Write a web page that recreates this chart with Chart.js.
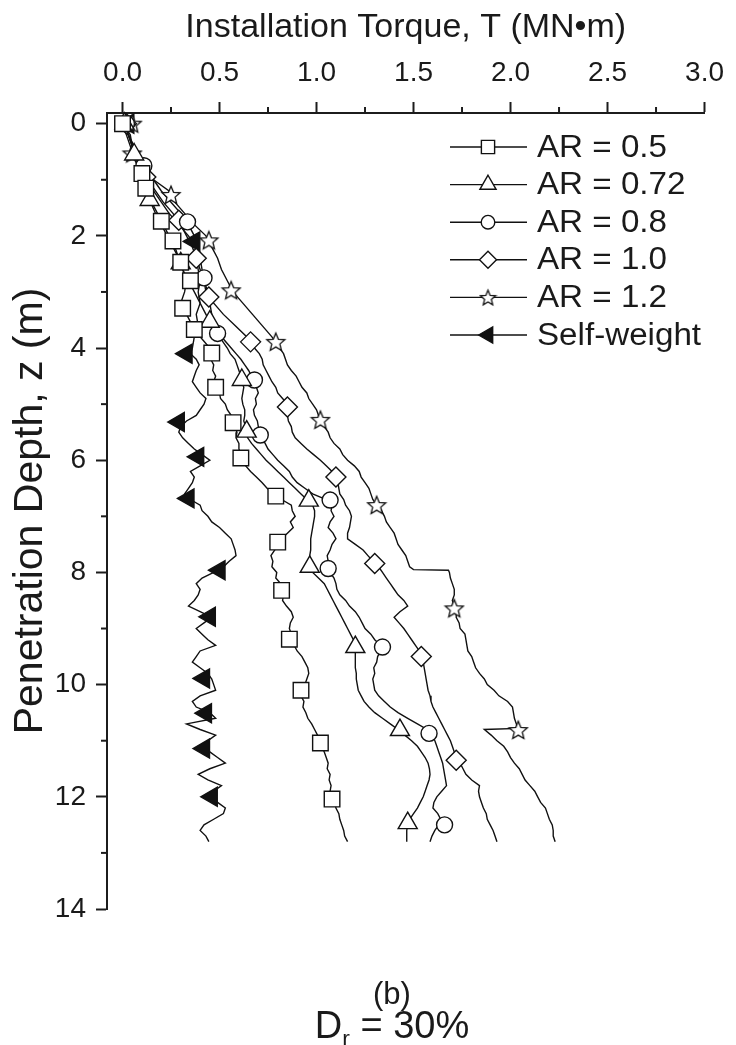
<!DOCTYPE html>
<html>
<head>
<meta charset="utf-8">
<script src="https://cdn.jsdelivr.net/npm/chart.js"></script>
<style>
  body { margin: 0; background: #fff; overflow: hidden; }
  #wrap { position: relative; width: 736px; height: 1045px; }
  .cap { position: absolute; left: 192px; width: 400px; text-align: center;
         font-family: 'Liberation Sans', Arial, sans-serif; color: #1a1a1a; line-height: 1; }
  .cap sub { font-size: 60%; vertical-align: -0.35em; }
</style>
</head>
<body>
<div id="wrap">
  <canvas id="myChart" width="736" height="1045"></canvas>
  <div class="cap" style="top:978px;font-size:31px;">(b)</div>
  <div class="cap" style="top:1006px;font-size:38px;">D<sub>r</sub> = 30%</div>
</div>
<script>
// tick labels
var xTicks = [0, 0.5, 1.0, 1.5, 2.0, 2.5, 3.0];
var xMinor = [0.25, 0.75, 1.25, 1.75, 2.25, 2.75];
var yTicks = [0, 2, 4, 6, 8, 10, 12, 14];
var yMinor = [1, 3, 5, 7, 9, 11, 13];

// depth (m) for the AR = 0.5 .. 1.0 and self-weight traces (finer below 4 m)
var depth = [0,0.2,0.4,0.6,0.8,1.0,1.2,1.4,1.6,1.8,2.0,2.2,2.4,2.6,2.8,3.0,3.2,3.4,3.6,3.8,
  4.0,4.1,4.2,4.3,4.4,4.5,4.6,4.7,4.8,4.9,5.0,5.1,5.2,5.3,5.4,5.5,5.6,5.7,5.8,5.9,
  6.0,6.1,6.2,6.3,6.4,6.5,6.6,6.7,6.8,6.9,7.0,7.1,7.2,7.3,7.4,7.5,7.6,7.7,7.8,7.9,
  8.0,8.1,8.2,8.3,8.4,8.5,8.6,8.7,8.8,8.9,9.0,9.1,9.2,9.3,9.4,9.5,9.6,9.7,9.8,9.9,
  10.0,10.1,10.2,10.3,10.4,10.5,10.6,10.7,10.8,10.9,11.0,11.1,11.2,11.3,11.4,11.5,11.6,11.7,11.8,11.9,
  12.0,12.1,12.2,12.3,12.4,12.5,12.6,12.7,12.8];

// installation torque (MN.m) along depth
var torqueAR05 = [0.00,0.03,0.05,0.07,0.09,0.11,0.13,0.15,0.18,0.21,0.24,0.27,0.29,0.31,0.33,0.32,0.30,0.33,0.36,0.40,
  0.45,0.46,0.455,0.47,0.465,0.48,0.47,0.485,0.50,0.505,0.53,0.54,0.56,0.565,0.575,0.59,0.585,0.60,0.60,0.615,
  0.62,0.635,0.66,0.69,0.72,0.745,0.78,0.82,0.87,0.875,0.89,0.865,0.88,0.85,0.82,0.80,0.785,0.765,0.775,0.77,
  0.795,0.79,0.815,0.82,0.83,0.825,0.845,0.87,0.88,0.865,0.86,0.87,0.86,0.885,0.90,0.925,0.94,0.955,0.96,0.95,
  0.94,0.925,0.92,0.935,0.93,0.945,0.955,0.975,0.99,1.005,1.02,1.025,1.04,1.05,1.06,1.055,1.07,1.065,1.075,1.07,
  1.08,1.095,1.10,1.115,1.12,1.13,1.14,1.145,1.16];
var torqueAR072 = [0.00,0.02,0.04,0.06,0.08,0.10,0.12,0.145,0.17,0.20,0.23,0.26,0.29,0.31,0.34,0.37,0.40,0.43,0.46,0.50,
  0.54,0.555,0.58,0.59,0.60,0.61,0.615,0.625,0.62,0.615,0.62,0.63,0.63,0.625,0.635,0.64,0.645,0.665,0.69,0.715,
  0.74,0.77,0.80,0.83,0.86,0.89,0.92,0.95,0.98,0.99,0.99,0.985,0.98,0.975,0.97,0.97,0.97,0.965,0.965,0.97,
  0.98,1.01,1.04,1.055,1.07,1.085,1.10,1.115,1.13,1.145,1.16,1.175,1.19,1.20,1.20,1.20,1.20,1.20,1.205,1.205,
  1.21,1.215,1.23,1.245,1.27,1.30,1.34,1.38,1.42,1.455,1.49,1.52,1.54,1.56,1.575,1.582,1.585,1.58,1.57,1.56,
  1.55,1.535,1.52,1.50,1.48,1.47,1.465,1.465,1.465];
var torqueAR08 = [0.00,0.03,0.06,0.09,0.12,0.16,0.20,0.25,0.30,0.34,0.37,0.39,0.40,0.41,0.42,0.43,0.45,0.46,0.48,0.51,
  0.56,0.585,0.61,0.63,0.65,0.665,0.68,0.69,0.70,0.685,0.69,0.675,0.68,0.695,0.70,0.71,0.72,0.735,0.75,0.775,
  0.80,0.83,0.86,0.875,0.90,0.94,0.98,1.05,1.08,1.075,1.09,1.07,1.06,1.085,1.10,1.08,1.07,1.055,1.06,1.06,
  1.07,1.09,1.10,1.105,1.12,1.15,1.17,1.20,1.22,1.235,1.25,1.28,1.30,1.33,1.33,1.315,1.31,1.295,1.30,1.29,
  1.295,1.30,1.32,1.35,1.38,1.42,1.47,1.52,1.57,1.59,1.61,1.62,1.63,1.64,1.65,1.655,1.66,1.665,1.67,1.645,
  1.62,1.605,1.60,1.625,1.64,1.63,1.61,1.595,1.585];
var torqueAR10 = [0.00,0.03,0.05,0.08,0.10,0.13,0.17,0.21,0.26,0.30,0.33,0.36,0.38,0.40,0.42,0.44,0.47,0.52,0.58,0.64,
  0.68,0.705,0.72,0.725,0.74,0.755,0.77,0.79,0.80,0.825,0.85,0.845,0.85,0.855,0.87,0.875,0.89,0.92,0.95,0.985,
  1.02,1.05,1.08,1.10,1.11,1.115,1.12,1.14,1.15,1.17,1.18,1.175,1.17,1.16,1.16,1.20,1.24,1.265,1.29,1.32,
  1.34,1.36,1.38,1.40,1.42,1.45,1.47,1.43,1.40,1.425,1.45,1.47,1.49,1.51,1.53,1.54,1.55,1.555,1.56,1.565,
  1.57,1.575,1.585,1.59,1.60,1.615,1.63,1.645,1.66,1.675,1.69,1.70,1.71,1.725,1.74,1.755,1.77,1.80,1.84,1.835,
  1.84,1.85,1.86,1.875,1.88,1.895,1.91,1.92,1.93];
var selfWeight = [0.00,0.03,0.05,0.08,0.10,0.13,0.16,0.20,0.24,0.29,0.34,0.38,0.38,0.39,0.40,0.39,0.40,0.38,0.39,0.37,
  0.36,0.35,0.38,0.395,0.38,0.37,0.36,0.38,0.40,0.43,0.42,0.40,0.38,0.33,0.30,0.29,0.31,0.34,0.37,0.41,
  0.45,0.40,0.35,0.37,0.36,0.34,0.32,0.35,0.40,0.41,0.44,0.46,0.50,0.53,0.56,0.57,0.58,0.585,0.55,0.52,
  0.47,0.41,0.38,0.40,0.39,0.37,0.34,0.40,0.46,0.42,0.38,0.41,0.44,0.48,0.40,0.38,0.36,0.40,0.44,0.46,
  0.47,0.48,0.40,0.36,0.38,0.45,0.48,0.33,0.40,0.48,0.44,0.42,0.45,0.49,0.53,0.45,0.39,0.44,0.51,0.47,
  0.45,0.49,0.53,0.52,0.47,0.42,0.40,0.43,0.445];

// AR = 1.2 has two sudden jumps, so it keeps its own depth list
var depthAR12 = [0,0.2,0.4,0.6,0.8,1.0,1.2,1.4,1.6,1.8,2.0,2.2,2.4,2.6,2.8,3.0,3.2,3.4,3.6,3.8,
  4.0,4.1,4.2,4.3,4.4,4.5,4.6,4.7,4.8,4.9,5.0,5.1,5.2,5.3,5.4,5.5,5.6,5.7,5.8,5.9,
  6.0,6.1,6.2,6.3,6.4,6.5,6.6,6.7,6.8,6.9,7.0,7.1,7.2,7.3,7.4,7.5,7.6,7.7,7.8,7.9,
  7.95,7.96,
  8.0,8.1,8.2,8.3,8.4,8.5,8.6,8.7,8.8,8.9,9.0,9.1,9.2,9.3,9.4,9.5,9.6,9.7,9.8,9.9,
  10.0,10.1,10.2,10.3,10.4,10.5,10.6,10.7,10.78,
  10.8,10.9,11.0,11.1,11.2,11.3,11.4,11.5,11.6,11.7,11.8,11.9,12.0,12.1,12.2,12.3,12.4,12.5,12.6,12.7,12.8];
var torqueAR12 = [0.00,0.04,0.05,0.07,0.11,0.16,0.24,0.27,0.32,0.37,0.43,0.46,0.49,0.51,0.54,0.57,0.62,0.67,0.72,0.77,
  0.81,0.83,0.84,0.85,0.87,0.895,0.91,0.925,0.95,0.96,0.98,1.00,1.01,1.02,1.04,1.06,1.07,1.09,1.12,1.135,
  1.16,1.195,1.22,1.23,1.25,1.27,1.28,1.29,1.31,1.335,1.35,1.36,1.38,1.40,1.41,1.42,1.44,1.46,1.47,1.48,
  1.50,1.68,
  1.685,1.69,1.70,1.71,1.71,1.70,1.71,1.72,1.72,1.735,1.74,1.765,1.77,1.775,1.78,1.80,1.81,1.82,1.84,1.865,
  1.88,1.915,1.94,1.985,2.01,2.015,2.02,2.03,2.04,
  1.865,1.90,1.93,1.965,1.985,2.00,2.02,2.045,2.06,2.075,2.10,2.125,2.14,2.155,2.18,2.19,2.20,2.215,2.22,2.22,2.23];

// marker positions (depth, torque)
var mkDepthAR05 = [0,0.89,1.15,1.74,2.09,2.47,2.8,3.29,3.67,4.09,4.7,5.33,5.96,6.64,7.46,8.32,9.19,10.1,11.04,12.04];
var mkTorqueAR05 = [0.00,0.10,0.12,0.20,0.26,0.30,0.35,0.31,0.37,0.46,0.48,0.57,0.61,0.79,0.80,0.82,0.86,0.92,1.02,1.08];
var mkDepthAR072 = [0,0.55,1.36,2.49,3.53,4.57,5.49,6.72,7.9,9.33,10.81,12.47];
var mkTorqueAR072 = [0.01,0.06,0.14,0.30,0.45,0.615,0.64,0.96,0.965,1.20,1.43,1.47];
var mkDepthAR08 = [0,0.75,1.75,2.75,3.74,4.57,5.55,6.71,7.93,9.33,10.87,12.5];
var mkTorqueAR08 = [0.02,0.11,0.335,0.42,0.49,0.68,0.71,1.07,1.06,1.34,1.58,1.66];
var mkDepthAR10 = [0,0.95,1.72,2.4,3.09,3.89,5.05,6.3,7.84,9.5,11.35];
var mkTorqueAR10 = [0.02,0.12,0.29,0.38,0.445,0.66,0.85,1.10,1.30,1.54,1.72];
var mkDepthAR12 = [0,0.53,1.27,2.08,2.97,3.89,5.28,6.8,8.64,10.81];
var mkTorqueAR12 = [0.05,0.05,0.25,0.445,0.56,0.79,1.02,1.31,1.71,2.04];
var mkDepthSW = [0,2.1,4.1,5.32,5.94,6.68,7.96,8.79,9.89,10.51,11.14,12.0];
var mkTorqueSW = [0.03,0.37,0.33,0.29,0.39,0.34,0.50,0.45,0.42,0.43,0.42,0.46];

var labels = ['AR = 0.5', 'AR = 0.72', 'AR = 0.8', 'AR = 1.0', 'AR = 1.2', 'Self-weight'];

var fontFam = "'Liberation Sans', Arial, sans-serif";
var ink = '#111';
var axisColor = '#1c1c1c';

function starImage(size) {
  var c = document.createElement('canvas');
  c.width = c.height = size;
  var g = c.getContext('2d');
  var cx = size / 2, cy = size / 2 + 0.8, R = size / 2 - 1.5, r = R * 0.45;
  g.beginPath();
  for (var k = 0; k < 10; k++) {
    var a = -Math.PI / 2 + k * Math.PI / 5;
    var rr = k % 2 ? r : R;
    g.lineTo(cx + rr * Math.cos(a), cy + rr * Math.sin(a));
  }
  g.closePath();
  g.fillStyle = '#fff';
  g.fill();
  g.lineWidth = 1.3;
  g.strokeStyle = ink;
  g.stroke();
  return c;
}
var star = starImage(22);
var starSmall = starImage(19);

function pts(t, z) {
  return t.map(function (v, i) { return { x: v, y: z[i] }; });
}

// marker look for each series
var marks = [
  { style: 'rect', radius: 11, rotation: 0, fill: '#fff' },
  { style: 'triangle', radius: 11, rotation: 0, fill: '#fff' },
  { style: 'circle', radius: 8, rotation: 0, fill: '#fff' },
  { style: 'rectRot', radius: 10, rotation: 0, fill: '#fff' },
  { style: star, radius: 10, rotation: 0, fill: '#fff' },
  { style: 'triangle', radius: 11, rotation: 270, fill: ink }
];

var lines = [
  pts(torqueAR05, depth), pts(torqueAR072, depth), pts(torqueAR08, depth),
  pts(torqueAR10, depth), pts(torqueAR12, depthAR12), pts(selfWeight, depth)
];
var markers = [
  pts(mkTorqueAR05, mkDepthAR05), pts(mkTorqueAR072, mkDepthAR072), pts(mkTorqueAR08, mkDepthAR08),
  pts(mkTorqueAR10, mkDepthAR10), pts(mkTorqueAR12, mkDepthAR12), pts(mkTorqueSW, mkDepthSW)
];

var datasets = [];
lines.forEach(function (d, i) {
  datasets.push({
    label: labels[i], data: d, showLine: true, borderColor: ink, borderWidth: 1.4,
    pointRadius: 0, tension: 0, order: 2
  });
});
markers.forEach(function (d, i) {
  datasets.push({
    label: labels[i] + ' markers', data: d, showLine: false, clip: false, order: 1,
    pointStyle: marks[i].style, pointRadius: marks[i].radius, pointRotation: marks[i].rotation,
    pointBackgroundColor: marks[i].fill, pointBorderColor: ink, pointBorderWidth: 1.4
  });
});

// minor ticks and the in-plot legend
var extras = {
  id: 'extras',
  afterDraw: function (chart) {
    var ctx = chart.ctx, xs = chart.scales.x, ys = chart.scales.y;
    ctx.save();
    ctx.strokeStyle = axisColor;
    ctx.lineWidth = 2;
    xMinor.forEach(function (v) {
      var px = xs.getPixelForValue(v);
      ctx.beginPath(); ctx.moveTo(px, xs.bottom); ctx.lineTo(px, xs.bottom - 6); ctx.stroke();
    });
    yMinor.forEach(function (v) {
      var py = ys.getPixelForValue(v);
      ctx.beginPath(); ctx.moveTo(ys.right, py); ctx.lineTo(ys.right - 6, py); ctx.stroke();
    });

    var top = 147, step = 37.6, x0 = 450, x1 = 527, xm = 488, xt = 537;
    ctx.font = '31px ' + fontFam;
    ctx.textBaseline = 'middle';
    ctx.textAlign = 'left';
    labels.forEach(function (lab, i) {
      var y = top + i * step;
      ctx.strokeStyle = ink; ctx.lineWidth = 1.4;
      ctx.beginPath(); ctx.moveTo(x0, y); ctx.lineTo(x1, y); ctx.stroke();
      ctx.fillStyle = marks[i].fill;
      ctx.strokeStyle = ink;
      ctx.lineWidth = 1.4;
      Chart.helpers.drawPoint(ctx, {
        pointStyle: i === 4 ? starSmall : marks[i].style, radius: marks[i].radius * 0.85,
        rotation: marks[i].rotation, borderWidth: 1.4
      }, xm, y);
      ctx.fillStyle = '#1a1a1a';
      ctx.save();
      ctx.translate(xt, y + 1);
      ctx.scale(1.07, 1);
      ctx.fillText(lab, 0, 0);
      ctx.restore();
    });
    ctx.restore();
  }
};

new Chart(document.getElementById('myChart'), {
  type: 'scatter',
  data: { datasets: datasets },
  options: {
    responsive: false,
    animation: false,
    layout: { padding: { left: 0, top: 0, right: 25, bottom: 136 } },
    plugins: { legend: { display: false }, tooltip: { enabled: false } },
    scales: {
      x: {
        type: 'linear', position: 'top', min: -0.08, max: 3.0,
        afterBuildTicks: function (s) { s.ticks = xTicks.map(function (v) { return { value: v }; }); },
        afterFit: function (s) { s.height = 113; },
        border: { display: true, color: axisColor, width: 2 },
        grid: { drawOnChartArea: false, tickLength: 11, tickWidth: 2, tickColor: axisColor },
        ticks: {
          color: '#1a1a1a', padding: 12, maxRotation: 0, autoSkip: false,
          font: { family: fontFam, size: 28 },
          callback: function (v) { return Number(v).toFixed(1); }
        },
        title: {
          display: true, text: 'Installation Torque, T (MN•m)', color: '#1a1a1a',
          font: { family: fontFam, size: 34 }, padding: { top: 7, bottom: 0 }
        }
      },
      y: {
        type: 'linear', reverse: true, min: -0.19, max: 14,
        afterBuildTicks: function (s) { s.ticks = yTicks.map(function (v) { return { value: v }; }); },
        afterFit: function (s) { s.width = 107; },
        border: { display: true, color: axisColor, width: 2 },
        grid: { drawOnChartArea: false, tickLength: 11, tickWidth: 2, tickColor: axisColor },
        ticks: {
          color: '#1a1a1a', padding: 10, autoSkip: false,
          font: { family: fontFam, size: 28 },
          callback: function (v) { return String(v); }
        },
        title: {
          display: true, text: 'Penetration Depth, z (m)', color: '#1a1a1a',
          font: { family: fontFam, size: 41 }, padding: { top: 6, bottom: 0 }
        }
      }
    }
  },
  plugins: [extras]
});
</script>
</body>
</html>
